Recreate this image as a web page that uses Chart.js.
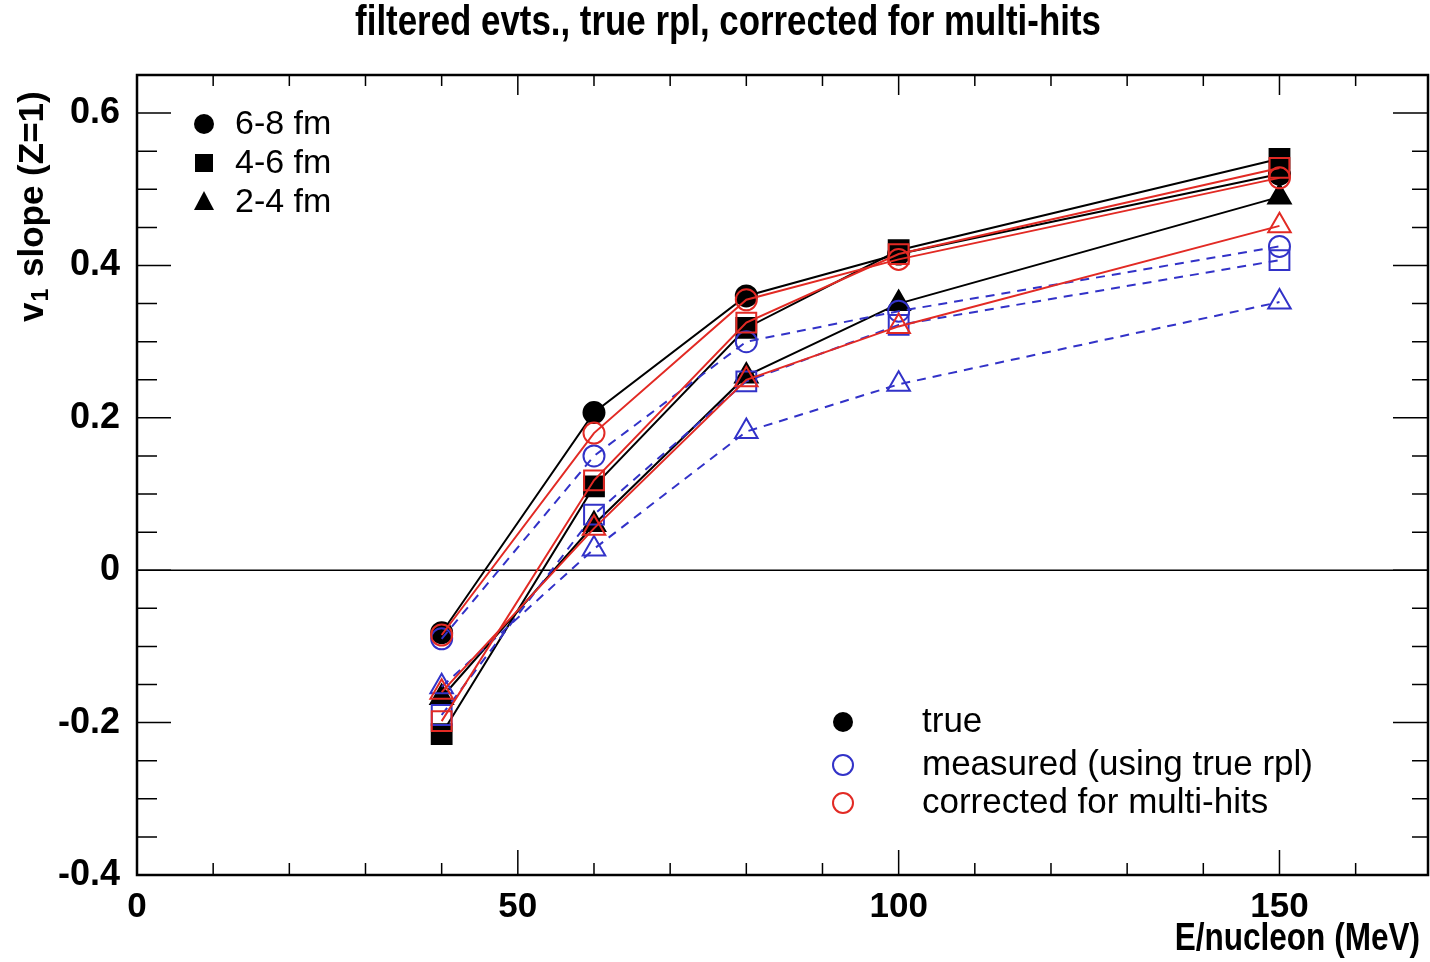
<!DOCTYPE html>
<html>
<head>
<meta charset="utf-8">
<script src="https://cdn.jsdelivr.net/npm/chart.js@4"></script>
<style>
  html, body { margin: 0; padding: 0; background: #fff; }
  canvas { display: block; }
</style>
</head>
<body>
<canvas id="v1chart" width="1430" height="962"></canvas>
<script>
// beam energies (MeV per nucleon)
const energies = [40, 60, 80, 100, 150];

// v1 slope, true reaction plane
const true68 = [-0.082, 0.207, 0.36, 0.415, 0.52];
const true46 = [-0.215, 0.11, 0.318, 0.42, 0.54];
const true24 = [-0.167, 0.06, 0.255, 0.35, 0.49];
// measured (using true rpl)
const meas68 = [-0.09, 0.15, 0.30, 0.34, 0.425];
const meas46 = [-0.19, 0.073, 0.248, 0.322, 0.407];
const meas24 = [-0.153, 0.028, 0.182, 0.244, 0.352];
// corrected for multi-hits
const corr68 = [-0.085, 0.18, 0.355, 0.408, 0.515];
const corr46 = [-0.198, 0.118, 0.325, 0.415, 0.528];
const corr24 = [-0.16, 0.055, 0.25, 0.32, 0.452];

const xTickLabels = [0, 50, 100, 150];
const yTickLabels = [-0.4, -0.2, 0, 0.2, 0.4, 0.6];

const BLACK = '#000000';
const BLUE = '#3232c8';
const RED = '#e22a24';

const pts = ys => energies.map((e, i) => ({ x: e, y: ys[i] }));

function series(ys, color, style, filled, dashed, order) {
  const r = style === 'rect' ? 14 : style === 'triangle' ? 13 : 10.5;
  return {
    data: pts(ys),
    showLine: true,
    borderColor: color,
    borderWidth: 2,
    borderDash: dashed ? [9, 7] : [],
    backgroundColor: filled ? color : 'rgba(0,0,0,0)',
    pointStyle: style,
    pointRadius: r,
    pointHoverRadius: r,
    pointBorderWidth: 2,
    pointBorderColor: color,
    pointBackgroundColor: filled ? color : 'rgba(0,0,0,0)',
    order: order
  };
}

const SANS = '"Liberation Sans", Arial, sans-serif';

// condensed bold text, squeezed horizontally
function narrowText(ctx, txt, x, y, size, align) {
  ctx.save();
  ctx.font = 'bold ' + size + 'px ' + SANS;
  ctx.textAlign = align;
  ctx.textBaseline = 'middle';
  ctx.translate(x, y);
  ctx.scale(0.83, 1);
  ctx.fillText(txt, 0, 0);
  ctx.restore();
}

function marker(ctx, style, x, y, color, filled) {
  ctx.save();
  ctx.strokeStyle = color;
  ctx.fillStyle = color;
  ctx.lineWidth = 2;
  ctx.beginPath();
  if (style === 'circle') {
    ctx.arc(x, y, 10, 0, Math.PI * 2);
  } else if (style === 'rect') {
    ctx.rect(x - 9, y - 9, 18, 18);
  } else {
    ctx.moveTo(x, y - 11);
    ctx.lineTo(x + 10, y + 8);
    ctx.lineTo(x - 10, y + 8);
    ctx.closePath();
  }
  if (filled) ctx.fill(); else ctx.stroke();
  ctx.restore();
}

const framePlugin = {
  id: 'frame',
  beforeDatasetsDraw(chart) {
    const { ctx, chartArea: a, scales: { y } } = chart;
    const y0 = y.getPixelForValue(0);
    ctx.save();
    ctx.strokeStyle = '#000';
    ctx.lineWidth = 1.5;
    ctx.beginPath();
    ctx.moveTo(a.left, y0);
    ctx.lineTo(a.right, y0);
    ctx.stroke();
    ctx.restore();
  },
  afterDraw(chart) {
    const { ctx, chartArea: a, scales: { x, y } } = chart;
    ctx.save();
    ctx.strokeStyle = '#000';
    ctx.lineWidth = 1.5;
    ctx.beginPath();
    x.ticks.forEach(t => {
      const px = x.getPixelForValue(t.value);
      if (px <= a.left + 1 || px >= a.right - 1) return;
      const major = Math.round(t.value) % 50 === 0;
      const len = major ? 25 : 12;
      ctx.moveTo(px, a.bottom);
      ctx.lineTo(px, a.bottom - len);
      ctx.moveTo(px, a.top);
      ctx.lineTo(px, a.top + (major ? 20 : 11));
    });
    y.ticks.forEach(t => {
      const py = y.getPixelForValue(t.value);
      if (py <= a.top + 1 || py >= a.bottom - 1) return;
      const major = Math.round(t.value * 100) % 20 === 0;
      ctx.moveTo(a.left, py);
      ctx.lineTo(a.left + (major ? 34 : 20), py);
      ctx.moveTo(a.right, py);
      ctx.lineTo(a.right - (major ? 35 : 16), py);
    });
    ctx.stroke();
    ctx.lineWidth = 2.5;
    ctx.strokeRect(a.left, a.top, a.right - a.left, a.bottom - a.top);

    ctx.fillStyle = '#000';
    narrowText(ctx, 'filtered evts., true rpl, corrected for multi-hits', 728, 23, 42, 'center');
    narrowText(ctx, 'E/nucleon (MeV)', 1420, 940, 38, 'right');

    // y axis title with subscript
    ctx.save();
    ctx.translate(33, 322);
    ctx.rotate(-Math.PI / 2);
    ctx.textAlign = 'left';
    ctx.textBaseline = 'middle';
    ctx.font = 'bold 35px ' + SANS;
    ctx.fillText('v', 0, 0);
    let w = ctx.measureText('v').width;
    ctx.font = 'bold 23px ' + SANS;
    ctx.fillText('1', w + 1, 9);
    w += ctx.measureText('1').width + 3;
    ctx.font = 'bold 35px ' + SANS;
    ctx.fillText(' slope (Z=1)', w, 0);
    ctx.restore();

    // impact parameter legend
    ctx.font = '34px ' + SANS;
    ctx.textAlign = 'left';
    ctx.textBaseline = 'middle';
    const bl = [['circle', '6-8 fm', 124], ['rect', '4-6 fm', 163], ['triangle', '2-4 fm', 202]];
    bl.forEach(([s, txt, py]) => {
      marker(ctx, s, 204, py, '#000', true);
      ctx.fillStyle = '#000';
      ctx.fillText(txt, 235, py + 1);
    });

    // method legend
    ctx.font = '35px ' + SANS;
    const ml = [[BLACK, true, 'true', 722], [BLUE, false, 'measured (using true rpl)', 765], [RED, false, 'corrected for multi-hits', 803]];
    ml.forEach(([c, f, txt, py]) => {
      marker(ctx, 'circle', 843, py, c, f);
      ctx.fillStyle = '#000';
      ctx.fillText(txt, 922, py);
    });
    ctx.restore();
  }
};

new Chart(document.getElementById('v1chart'), {
  type: 'scatter',
  data: {
    datasets: [
      series(true68, BLACK, 'circle', true, false, 3),
      series(true46, BLACK, 'rect', true, false, 3),
      series(true24, BLACK, 'triangle', true, false, 3),
      series(meas68, BLUE, 'circle', false, true, 2),
      series(meas46, BLUE, 'rect', false, true, 2),
      series(meas24, BLUE, 'triangle', false, true, 2),
      series(corr68, RED, 'circle', false, false, 1),
      series(corr46, RED, 'rect', false, false, 1),
      series(corr24, RED, 'triangle', false, false, 1)
    ]
  },
  options: {
    responsive: false,
    animation: false,
    devicePixelRatio: 1,
    layout: { autoPadding: false, padding: { top: 75, right: 2, left: 0, bottom: 0 } },
    plugins: {
      legend: { display: false },
      tooltip: { enabled: false },
      title: { display: false }
    },
    scales: {
      x: {
        type: 'linear',
        min: 0,
        max: 169.5,
        grid: { display: false },
        border: { display: false },
        afterFit: s => { s.height = 87; s.paddingLeft = 0; s.paddingRight = 0; },
        ticks: {
          stepSize: 10,
          includeBounds: false,
          autoSkip: false,
          maxRotation: 0,
          padding: 3,
          color: '#000',
          font: { family: SANS, size: 35, weight: 'bold' },
          callback: v => xTickLabels.includes(Math.round(v)) && Math.abs(v - Math.round(v)) < 1e-6 ? String(Math.round(v)) : ''
        }
      },
      y: {
        type: 'linear',
        min: -0.4,
        max: 0.65,
        grid: { display: false },
        border: { display: false },
        afterFit: s => { s.width = 137; s.paddingTop = 0; s.paddingBottom = 0; },
        ticks: {
          stepSize: 0.05,
          includeBounds: false,
          autoSkip: false,
          padding: 9,
          color: '#000',
          font: { family: SANS, size: 36, weight: 'bold' },
          callback: v => {
            const hit = yTickLabels.find(t => Math.abs(t - v) < 1e-6);
            if (hit === undefined) return '';
            return hit === 0 ? '0' : hit.toFixed(1);
          }
        }
      }
    }
  },
  plugins: [framePlugin]
});
</script>
</body>
</html>
